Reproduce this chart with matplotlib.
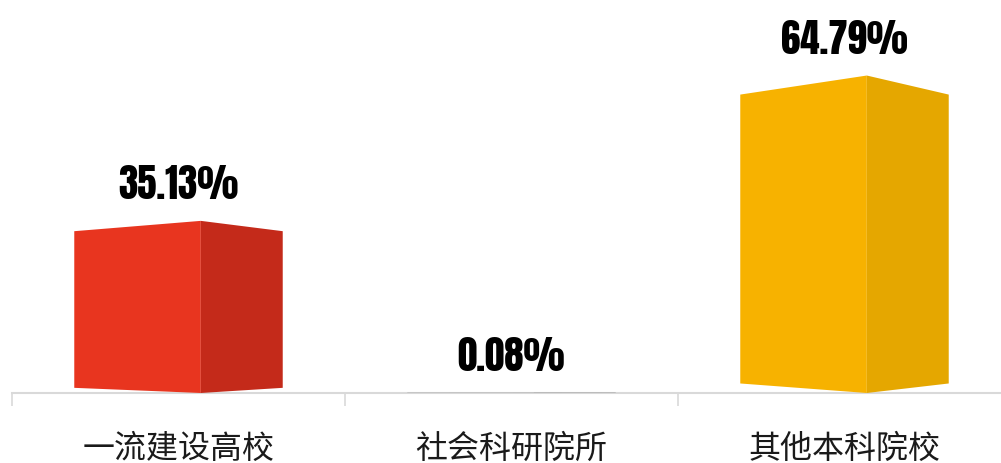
import matplotlib
matplotlib.use('Agg')
import matplotlib.pyplot as plt
from matplotlib.patches import Polygon

plt.rcParams['font.family'] = ['Noto Sans CJK SC', 'DejaVu Sans']

# 数据
categorias = ['一流建设高校', '社会科研院所', '其他本科院校']
valores = [35.13, 0.08, 64.79]
etiquetas = ['35.13%', '0.08%', '64.79%']
color_frente = ['#E8351F', '#A5A5A5', '#F7B200']
color_lado = ['#C42A1A', '#8C8C8C', '#E5A700']

W, H = 1001, 464
fig = plt.figure(figsize=(W / 100, H / 100), dpi=100)
base_px = 394
ax = fig.add_axes([12 / W, (H - base_px) / H, 999 / W, base_px / H])
ax.set_xlim(-0.5, 2.5)
ax.set_ylim(0, base_px / 4.9)

# geometria de la caja (unidades de datos)
ancho_frente = 0.38
ancho_lado = 0.246
for i, v in enumerate(valores):
    x0 = i - (ancho_frente + ancho_lado) / 2
    xm = x0 + ancho_frente
    x1 = xm + ancho_lado
    caida_sup = 0.06 * v
    caida_inf = 0.03 * v
    frente = [(x0, caida_inf), (xm, 0), (xm, v), (x0, v - caida_sup)]
    lado = [(xm, 0), (x1, caida_inf), (x1, v - caida_sup), (xm, v)]
    ax.add_patch(Polygon(frente, closed=True, facecolor=color_frente[i],
                         edgecolor='none', zorder=3))
    ax.add_patch(Polygon(lado, closed=True, facecolor=color_lado[i],
                         edgecolor='none', zorder=3))
    ax.annotate(etiquetas[i], xy=(i, v), xytext=(0, 27), textcoords='offset points',
                ha='center', va='center', fontsize=28,
                family=['Anton', 'DejaVu Sans'], color='black')

for s in ['top', 'right', 'left']:
    ax.spines[s].set_visible(False)
ax.spines['bottom'].set_color('#D9D9D9')
ax.spines['bottom'].set_linewidth(1.5)
ax.set_yticks([])
ax.set_xticks(range(len(categorias)))
ax.set_xticklabels(categorias, fontsize=23, color='#1a1a1a')
ax.tick_params(axis='x', which='major', length=0, pad=28)
ax.set_xticks([-0.5, 0.5, 1.5, 2.5], minor=True)
ax.tick_params(axis='x', which='minor', length=9, width=1.2, color='#D9D9D9')

fig.savefig('out.png', dpi=100)
